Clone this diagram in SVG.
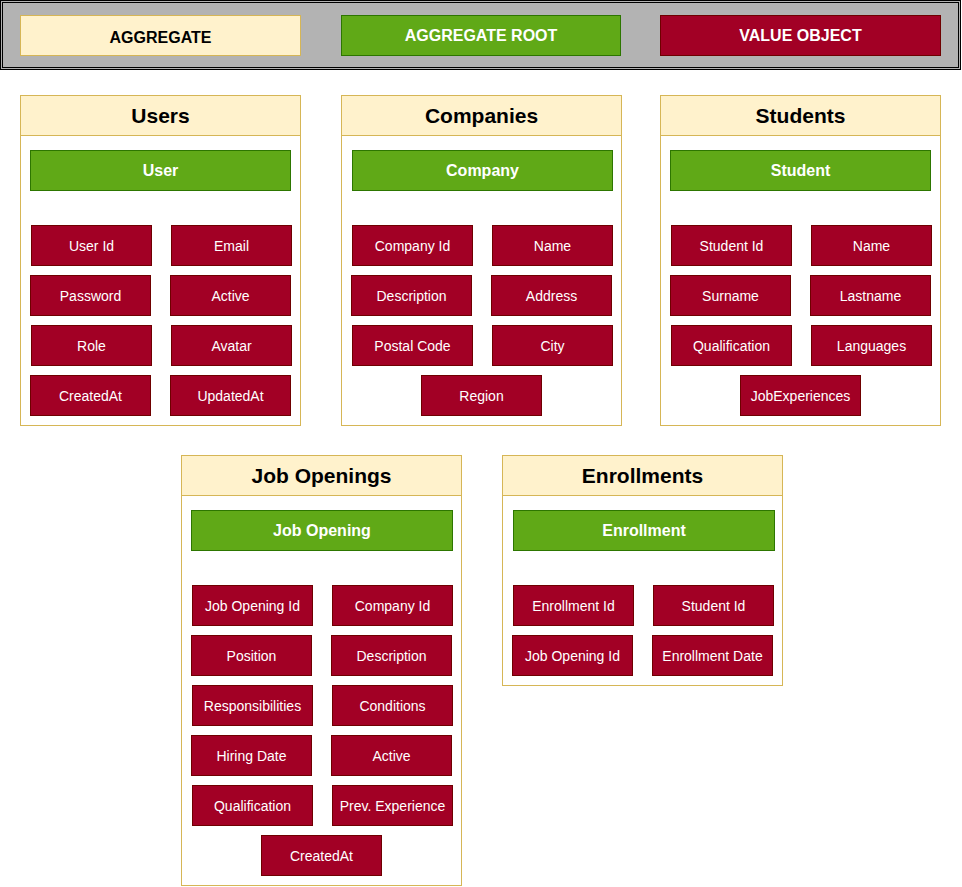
<svg xmlns="http://www.w3.org/2000/svg" width="962" height="887" viewBox="0 0 962 887">
<style>
.agg{fill:#FFF2CC;stroke:#D6B656;stroke-width:1}
.body{fill:#FFFFFF;stroke:#D6B656;stroke-width:1}
.root{fill:#60A917;stroke:#2D7600;stroke-width:1}
.vo{fill:#A20025;stroke:#6F0000;stroke-width:1}
.t{font-family:"Liberation Sans",Arial,sans-serif;text-anchor:middle}
.title{font-size:21px;font-weight:bold;fill:#000}
.rt{font-size:16px;font-weight:bold;fill:#FFFFFF}
.vt{font-size:14px;fill:#FFFFFF}
.lg{font-size:16px;font-weight:bold}
</style>
<g id="legend">
<rect x="0.5" y="0.5" width="960" height="69" fill="#B3B3B3" stroke="#000"/>
<rect x="2.5" y="2.5" width="956" height="65" fill="none" stroke="#000"/>
<rect class="agg" x="20.5" y="15.5" width="280" height="40"/>
<text class="t lg" x="160.5" y="43" fill="#000">AGGREGATE</text>
<rect class="root" x="341.5" y="15.5" width="279" height="40"/>
<text class="t lg" x="481" y="41" fill="#fff">AGGREGATE ROOT</text>
<rect class="vo" x="660.5" y="15.5" width="280" height="40"/>
<text class="t lg" x="800.5" y="41" fill="#fff">VALUE OBJECT</text>
</g>
<g id="users">
<rect class="body" x="20.5" y="95.5" width="280" height="330"/>
<rect class="agg" x="20.5" y="95.5" width="280" height="40"/>
<text class="t title" x="160.5" y="123">Users</text>
<rect class="root" x="30.5" y="150.5" width="260" height="40"/>
<text class="t rt" x="160.5" y="176">User</text>
<rect class="vo" x="31.5" y="225.5" width="120" height="40"/><text class="t vt" x="91.5" y="250.5">User Id</text>
<rect class="vo" x="171.5" y="225.5" width="120" height="40"/><text class="t vt" x="231.5" y="250.5">Email</text>
<rect class="vo" x="30.5" y="275.5" width="120" height="40"/><text class="t vt" x="90.5" y="300.5">Password</text>
<rect class="vo" x="170.5" y="275.5" width="120" height="40"/><text class="t vt" x="230.5" y="300.5">Active</text>
<rect class="vo" x="31.5" y="325.5" width="120" height="40"/><text class="t vt" x="91.5" y="350.5">Role</text>
<rect class="vo" x="171.5" y="325.5" width="120" height="40"/><text class="t vt" x="231.5" y="350.5">Avatar</text>
<rect class="vo" x="30.5" y="375.5" width="120" height="40"/><text class="t vt" x="90.5" y="400.5">CreatedAt</text>
<rect class="vo" x="170.5" y="375.5" width="120" height="40"/><text class="t vt" x="230.5" y="400.5">UpdatedAt</text>
</g>
<g id="companies">
<rect class="body" x="341.5" y="95.5" width="280" height="330"/>
<rect class="agg" x="341.5" y="95.5" width="280" height="40"/>
<text class="t title" x="481.5" y="123">Companies</text>
<rect class="root" x="352.5" y="150.5" width="260" height="40"/>
<text class="t rt" x="482.5" y="176">Company</text>
<rect class="vo" x="352.5" y="225.5" width="120" height="40"/><text class="t vt" x="412.5" y="250.5">Company Id</text>
<rect class="vo" x="492.5" y="225.5" width="120" height="40"/><text class="t vt" x="552.5" y="250.5">Name</text>
<rect class="vo" x="351.5" y="275.5" width="120" height="40"/><text class="t vt" x="411.5" y="300.5">Description</text>
<rect class="vo" x="491.5" y="275.5" width="120" height="40"/><text class="t vt" x="551.5" y="300.5">Address</text>
<rect class="vo" x="352.5" y="325.5" width="120" height="40"/><text class="t vt" x="412.5" y="350.5">Postal Code</text>
<rect class="vo" x="492.5" y="325.5" width="120" height="40"/><text class="t vt" x="552.5" y="350.5">City</text>
<rect class="vo" x="421.5" y="375.5" width="120" height="40"/><text class="t vt" x="481.5" y="400.5">Region</text>
</g>
<g id="students">
<rect class="body" x="660.5" y="95.5" width="280" height="330"/>
<rect class="agg" x="660.5" y="95.5" width="280" height="40"/>
<text class="t title" x="800.5" y="123">Students</text>
<rect class="root" x="670.5" y="150.5" width="260" height="40"/>
<text class="t rt" x="800.5" y="176">Student</text>
<rect class="vo" x="671.5" y="225.5" width="120" height="40"/><text class="t vt" x="731.5" y="250.5">Student Id</text>
<rect class="vo" x="811.5" y="225.5" width="120" height="40"/><text class="t vt" x="871.5" y="250.5">Name</text>
<rect class="vo" x="670.5" y="275.5" width="120" height="40"/><text class="t vt" x="730.5" y="300.5">Surname</text>
<rect class="vo" x="810.5" y="275.5" width="120" height="40"/><text class="t vt" x="870.5" y="300.5">Lastname</text>
<rect class="vo" x="671.5" y="325.5" width="120" height="40"/><text class="t vt" x="731.5" y="350.5">Qualification</text>
<rect class="vo" x="811.5" y="325.5" width="120" height="40"/><text class="t vt" x="871.5" y="350.5">Languages</text>
<rect class="vo" x="740.5" y="375.5" width="120" height="40"/><text class="t vt" x="800.5" y="400.5">JobExperiences</text>
</g>
<g id="job-openings">
<rect class="body" x="181.5" y="455.5" width="280" height="430"/>
<rect class="agg" x="181.5" y="455.5" width="280" height="40"/>
<text class="t title" x="321.5" y="483">Job Openings</text>
<rect class="root" x="191.5" y="510.5" width="261" height="40"/>
<text class="t rt" x="322" y="536">Job Opening</text>
<rect class="vo" x="192.5" y="585.5" width="120" height="40"/><text class="t vt" x="252.5" y="610.5">Job Opening Id</text>
<rect class="vo" x="332.5" y="585.5" width="120" height="40"/><text class="t vt" x="392.5" y="610.5">Company Id</text>
<rect class="vo" x="191.5" y="635.5" width="120" height="40"/><text class="t vt" x="251.5" y="660.5">Position</text>
<rect class="vo" x="331.5" y="635.5" width="120" height="40"/><text class="t vt" x="391.5" y="660.5">Description</text>
<rect class="vo" x="192.5" y="685.5" width="120" height="40"/><text class="t vt" x="252.5" y="710.5">Responsibilities</text>
<rect class="vo" x="332.5" y="685.5" width="120" height="40"/><text class="t vt" x="392.5" y="710.5">Conditions</text>
<rect class="vo" x="191.5" y="735.5" width="120" height="40"/><text class="t vt" x="251.5" y="760.5">Hiring Date</text>
<rect class="vo" x="331.5" y="735.5" width="120" height="40"/><text class="t vt" x="391.5" y="760.5">Active</text>
<rect class="vo" x="192.5" y="785.5" width="120" height="40"/><text class="t vt" x="252.5" y="810.5">Qualification</text>
<rect class="vo" x="332.5" y="785.5" width="120" height="40"/><text class="t vt" x="392.5" y="810.5">Prev. Experience</text>
<rect class="vo" x="261.5" y="835.5" width="120" height="40"/><text class="t vt" x="321.5" y="860.5">CreatedAt</text>
</g>
<g id="enrollments">
<rect class="body" x="502.5" y="455.5" width="280" height="230"/>
<rect class="agg" x="502.5" y="455.5" width="280" height="40"/>
<text class="t title" x="642.5" y="483">Enrollments</text>
<rect class="root" x="513.5" y="510.5" width="261" height="40"/>
<text class="t rt" x="644" y="536">Enrollment</text>
<rect class="vo" x="513.5" y="585.5" width="120" height="40"/><text class="t vt" x="573.5" y="610.5">Enrollment Id</text>
<rect class="vo" x="653.5" y="585.5" width="120" height="40"/><text class="t vt" x="713.5" y="610.5">Student Id</text>
<rect class="vo" x="512.5" y="635.5" width="120" height="40"/><text class="t vt" x="572.5" y="660.5">Job Opening Id</text>
<rect class="vo" x="652.5" y="635.5" width="120" height="40"/><text class="t vt" x="712.5" y="660.5">Enrollment Date</text>
</g>
<g id="connectors"></g>
</svg>
